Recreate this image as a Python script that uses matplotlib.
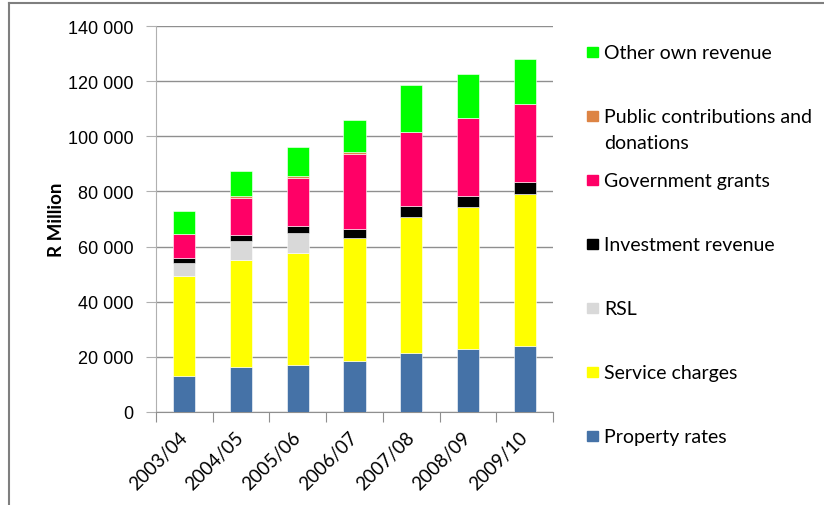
import numpy as np
import matplotlib
matplotlib.use('Agg')
from matplotlib import pyplot as plt
from matplotlib.patches import Rectangle
from matplotlib.lines import Line2D

years = ['2003/04', '2004/05', '2005/06', '2006/07', '2007/08', '2008/09', '2009/10']

property_rates = [12900, 16450, 17170, 18620, 21420, 22870, 23960]
service_charges = [36300, 38700, 40400, 44540, 49370, 51550, 55030]
rsl = [4900, 7020, 7510, 0, 0, 0, 0]
investment_revenue = [1800, 2180, 2550, 3380, 3840, 3850, 4250]
government_grants = [8800, 13430, 17310, 26970, 26770, 28430, 28420]
public_contributions = [0, 720, 830, 720, 0, 0, 0]
other_own_revenue = [8250, 8980, 10280, 11770, 17050, 15990, 16340]

series = [
    ('Property rates', property_rates, '#4572a7'),
    ('Service charges', service_charges, '#ffff00'),
    ('RSL', rsl, '#d9d9d9'),
    ('Investment revenue', investment_revenue, '#000000'),
    ('Government grants', government_grants, '#ff0066'),
    ('Public contributions and\ndonations', public_contributions, '#dd8444'),
    ('Other own revenue', other_own_revenue, '#00ff00'),
]

W, H = 824, 506
fig = plt.figure(figsize=(W / 100, H / 100), dpi=100)
ax = fig.add_axes([156 / W, 1 - 413 / H, (553 - 156) / W, (413 - 27) / H])

x = np.arange(len(years))
bottom = np.zeros(len(years))
for label, vals, color in series:
    vals = np.array(vals, dtype=float)
    ax.bar(x, vals, 0.39, bottom=bottom, color=color, edgecolor='white', linewidth=0.4, zorder=3)
    bottom += vals

ax.set_xlim(-0.5, len(years) - 0.5)
ax.set_ylim(0, 140000)
ax.set_yticks(range(0, 140001, 20000))
ax.set_yticklabels([f'{v:,}'.replace(',', ' ') for v in range(0, 140001, 20000)],
                   fontfamily='Liberation Sans', fontsize=13)
ax.yaxis.grid(True, color='#8f8f8f', linewidth=1, zorder=0)
ax.tick_params(axis='y', length=7, color='#b0b0b0', pad=9)

# category boundary ticks, labels at centres
ax.set_xticks(np.arange(-0.5, len(years)), minor=False)
ax.set_xticklabels([])
ax.set_xticks(x, minor=True)
ax.set_xticklabels(years, minor=True, rotation=45, ha='right', va='center',
                   rotation_mode='anchor', fontfamily='Lato', fontsize=13.5)
ax.tick_params(axis='x', which='major', length=7, color='#8f8f8f')
ax.tick_params(axis='x', which='minor', length=0, pad=16)

for s in ['top', 'right']:
    ax.spines[s].set_visible(False)
ax.spines['left'].set_color('#b0b0b0')
ax.spines['bottom'].set_color('#8f8f8f')

fig.text(56 / W, 1 - 220 / H, 'R Million', rotation=90, ha='center', va='center',
         fontfamily='Lato', fontweight='bold', fontsize=13.5)

# legend, drawn as in the original (top to bottom)
legend_y = [59, 123, 187, 251, 315, 379, 443]
for (label, _, color), y in zip(series[::-1], legend_y):
    fig.patches.append(Rectangle((587 / W, 1 - (y - 1) / H), 10.5 / W, 10.5 / H,
                                 transform=fig.transFigure, color=color, figure=fig))
    for i, line in enumerate(label.split('\n')):
        fig.text(604 / W, 1 - (y + 26 * i) / H, line, ha='left', va='baseline',
                 fontfamily='Lato', fontsize=14)

# frame lines of the original figure box
fig.add_artist(Line2D([8.5 / W, 8.5 / W], [0, 1 - 4 / H], color='#7f7f7f', linewidth=1.5))
fig.add_artist(Line2D([8.5 / W, 1], [1 - 4 / H, 1 - 4 / H], color='#7f7f7f', linewidth=1.5))

fig.savefig('out.png', dpi=100)
